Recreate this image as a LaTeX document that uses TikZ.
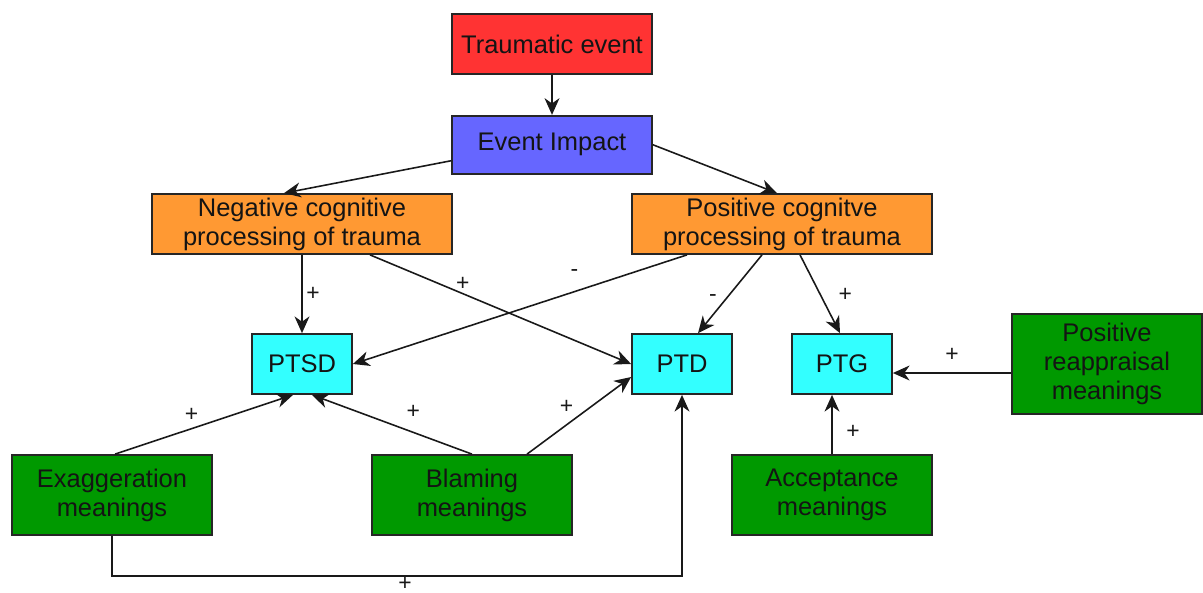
\documentclass[tikz,border=0pt]{standalone}
\usepackage{fontspec}
\setmainfont{Liberation Sans}
\usetikzlibrary{arrows.meta, positioning, calc}
\definecolor{traumared}{HTML}{FF3333}
\definecolor{impactblue}{HTML}{6666FF}
\definecolor{procorange}{HTML}{FF9933}
\definecolor{outcyan}{HTML}{33FFFF}
\definecolor{meangreen}{HTML}{009900}
\definecolor{edgegray}{HTML}{262626}
\tikzset{
  % Boxes of the model
  stage/.style={
    rectangle, draw=edgegray, fill=#1, line width=1pt,
    text=black!92, font=\fontsize{14.5}{16.5}\selectfont,
    align=center, inner sep=2pt,
  },
  stage/.default={procorange},
  % Arrows
  myarrow/.style={-{Stealth[length=9.5pt, width=8.5pt, inset=3pt]}, line width=0.9pt, black!90},
  % Signs on arrows
  arrlabel/.style={font=\fontsize{13}{13}\selectfont, text=black!90, inner sep=0pt},
}

\begin{document}
\begin{tikzpicture}[x=0.02cm, y=-0.02cm]
  \useasboundingbox (0,0) rectangle (1203,592);

  % Event
  \node[stage=traumared, minimum width=4cm, minimum height=1.2cm] (trauma) at (552,44) {Traumatic event};
  \node[stage=impactblue, minimum width=4cm, minimum height=1.16cm, below=0.8cm of trauma] (impact) {Event Impact};

  % Processing
  \node[stage, minimum width=6cm, minimum height=1.2cm] (negproc) at (302,224) {Negative cognitive\\processing of trauma};
  \node[stage, minimum width=6cm, minimum height=1.2cm] (posproc) at (782,224) {Positive cognitve\\processing of trauma};

  % Outcomes
  \node[stage=outcyan, minimum width=2cm, minimum height=1.2cm] (ptsd) at (302,364) {PTSD};
  \node[stage=outcyan, minimum width=2cm, minimum height=1.2cm] (ptd) at (682,364) {PTD};
  \node[stage=outcyan, minimum width=2cm, minimum height=1.2cm] (ptg) at (842,364) {PTG};

  % Meanings
  \node[stage=meangreen, minimum width=3.8cm, minimum height=2cm] (reapp) at (1107,364) {Positive\\reappraisal\\meanings};
  \node[stage=meangreen, minimum width=4cm, minimum height=1.6cm] (exag) at (112,495) {Exaggeration\\meanings};
  \node[stage=meangreen, minimum width=4cm, minimum height=1.6cm] (blame) at (472,495) {Blaming\\meanings};
  \node[stage=meangreen, minimum width=4cm, minimum height=1.6cm] (accept) at (832,495) {Acceptance\\meanings};

  % Arrows
  \draw[myarrow] (trauma) -- (impact);
  \draw[myarrow] ($(impact.west)+(0,16)$) -- ($(negproc.north)+(-18,0)$);
  \draw[myarrow] (impact.east) -- ($(posproc.north)+(-5,0)$);
  \draw[myarrow] (negproc) -- node[arrlabel, xshift=0.22cm] {+} (ptsd);
  \draw[myarrow] ($(negproc.south)+(68,0)$) -- node[arrlabel, pos=0.355, yshift=0.2cm] {+} (ptd.west);
  \draw[myarrow] ($(posproc.south)+(-95,0)$) -- node[arrlabel, pos=0.337, yshift=0.38cm] {-} (ptsd.east);
  \draw[myarrow] ($(posproc.south)+(-20,0)$) -- node[arrlabel, pos=0.55, xshift=-0.28cm] {-} ($(ptd.north)+(16,0)$);
  \draw[myarrow] ($(posproc.south)+(18,0)$) -- node[arrlabel, pos=0.51, xshift=0.5cm] {+} ($(ptg.north)+(-2,0)$);
  \draw[myarrow] ($(reapp.west)+(0,9)$) -- node[arrlabel, yshift=0.36cm] {+} ($(ptg.east)+(0,9)$);
  \draw[myarrow] (accept.north) -- node[arrlabel, pos=0.38, xshift=0.42cm] {+} (accept.north |- ptg.south);
  \draw[myarrow] ($(exag.north)+(3,0)$) -- node[arrlabel, pos=0.43, yshift=0.27cm] {+} ($(ptsd.south)+(-9,0)$);
  \draw[myarrow] (blame.north) -- node[arrlabel, pos=0.367, yshift=0.4cm] {+} ($(ptsd.south)+(10,0)$);
  \draw[myarrow] ($(blame.north)+(55,0)$) -- node[arrlabel, pos=0.38, yshift=0.36cm] {+} ($(ptd.west)+(0,13)$);
  \draw[myarrow] (exag.south) -- ++(0,40) -| node[arrlabel, pos=0.257, yshift=-0.17cm] {+} (ptd.south);

\end{tikzpicture}
\end{document}
